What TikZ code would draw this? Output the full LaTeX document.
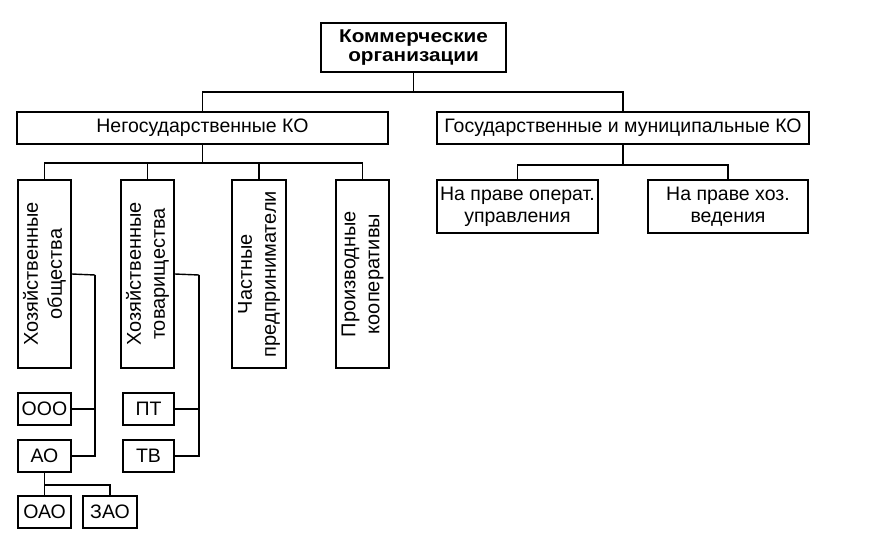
\documentclass[tikz,border=0pt]{standalone}
\usepackage{fontspec}
\usepackage{graphicx}
\setmainfont{Liberation Sans}
\usetikzlibrary{calc}
\newcommand{\widebf}[1]{\scalebox{1.12}[1]{#1}}
\begin{document}
\begin{tikzpicture}[x=1pt,y=-1pt,line width=1.4pt,
  box/.style={draw,rectangle,inner sep=0pt,align=center,font=\fontsize{19.5}{22}\selectfont},
  vbox/.style={box,rotate=90,minimum width=188pt,font=\fontsize{20}{24}\selectfont},
  small/.style={box,minimum height=32pt}]
\useasboundingbox (0,0) rectangle (871,541);
\node[box,minimum width=185pt,minimum height=49pt,font=\bfseries\fontsize{18.5}{19.5}\selectfont] (top) at (413.5,47.5) {\widebf{Коммерческие}\\\widebf{организации}};
\node[box,minimum width=371pt,minimum height=32pt] (neg) at (202.5,128) {Негосударственные КО};
\node[box,minimum width=372pt,minimum height=32pt] (gos) at (623,128) {Государственные и муниципальные КО};
\coordinate (j1) at (413.5,92);
\draw (top.south) -- (j1);
\draw (neg.north) |- (j1) -| (gos.north);
% non-state children
\node[vbox,minimum height=53pt] (b1) at (44.5,274) {Хозяйственные\\общества};
\node[vbox,minimum height=53pt] (b2) at (147.5,274) {Хозяйственные\\товарищества};
\node[vbox,minimum height=54pt] (b3) at (259,274) {Частные\\предприниматели};
\node[vbox,minimum height=53pt] (b4) at (362.5,274) {Производные\\кооперативы};
\coordinate (j2) at (202.5,163);
\draw (neg.south) -- (j2);
\draw (b1.east) |- (j2) -| (b4.east);
\draw (b2.east) |- (j2);
\draw (b3.east) |- (j2);
% state children
\node[box,minimum width=161pt,minimum height=53pt] (c1) at (517.5,206.5) {На праве операт.\\управления};
\node[box,minimum width=160pt,minimum height=53pt] (c2) at (728,206.5) {На праве хоз.\\ведения};
\coordinate (j3) at (623,165);
\draw (gos.south) -- (j3);
\draw (c1.north) |- (j3) -| (c2.north);
% societies
\node[small,minimum width=53pt] (ooo) at (44.5,409) {ООО};
\node[small,minimum width=53pt] (ao) at (44.5,456) {АО};
\coordinate (k1) at (95,275);
\draw (b1.south) -- (k1);
\draw (k1) |- (ooo.east);
\draw (k1) |- (ao.east);
% partnerships
\node[small,minimum width=51pt] (pt) at (148.5,409) {ПТ};
\node[small,minimum width=51pt] (tv) at (148.5,456) {ТВ};
\coordinate (k2) at (199,275);
\draw (b2.south) -- (k2);
\draw (k2) |- (pt.east);
\draw (k2) |- (tv.east);
% joint-stock
\node[small,minimum width=53pt] (oao) at (44.5,512) {ОАО};
\node[small,minimum width=54pt] (zao) at (110,512) {ЗАО};
\coordinate (j4) at (44.5,485);
\draw (ao.south) -- (oao.north);
\draw (j4) -| (zao.north);
\end{tikzpicture}
\end{document}
